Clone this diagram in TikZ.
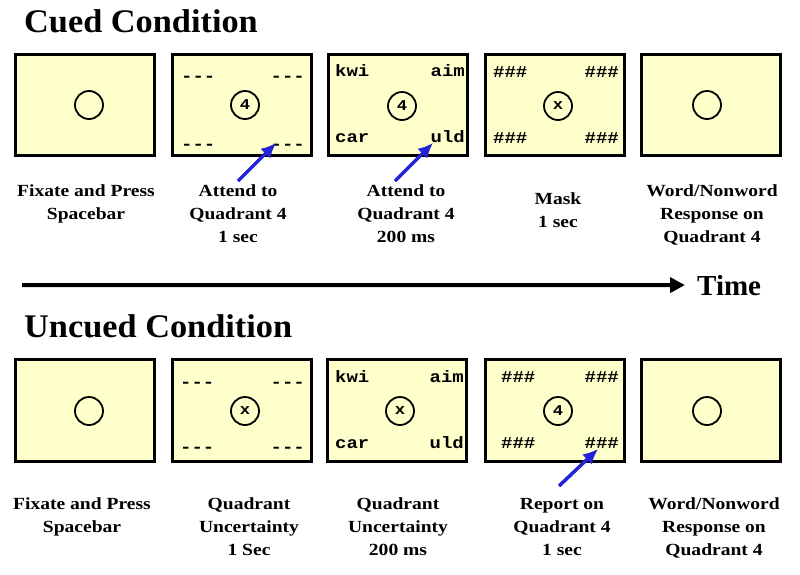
\documentclass[tikz,border=0pt]{standalone}
\usepackage{fontspec}
\setmainfont{Liberation Serif}
\newfontfamily\labfont{Liberation Serif}[FakeStretch=1.15]
\newfontfamily\titlefont{Liberation Serif}[FakeStretch=1.04]
\newfontfamily\scrfont{Liberation Mono}[FakeStretch=1.15]
\usetikzlibrary{arrows.meta}
\definecolor{screen}{RGB}{255,255,204}
\definecolor{cueblue}{RGB}{35,35,215}
\tikzset{
  screenbox/.style={draw, line width=3pt, fill=screen, minimum width=139pt, minimum height=101pt, inner sep=0pt},
  fixmark/.style={circle, draw, line width=1.8pt, minimum size=28pt, inner sep=0pt, font=\scrfont\bfseries\fontsize{15}{15}\selectfont},
  corner/.style={inner sep=0pt, font=\scrfont\bfseries\fontsize{16.5}{16.5}\selectfont},
  lab/.style={inner sep=0pt, anchor=north, align=center, font=\labfont\bfseries\fontsize{17}{23}\selectfont},
  heading/.style={inner sep=0pt, anchor=base west, font=\titlefont\bfseries\fontsize{33}{33}\selectfont},
  cue/.style={draw=cueblue, line width=3.5pt, -{Latex[length=15pt,width=14pt]}},
}
\newcommand{\fl}{\rule{0pt}{12pt}}
\begin{document}
\begin{tikzpicture}[x=1pt,y=-1pt]
\useasboundingbox (0,0) rectangle (800,574);
% titles
\node[heading] (cued) at (24,32) {Cued Condition};
\node[heading] (uncued) at (24,337) {Uncued Condition};
% top row screens
\node[screenbox] (c1) at (85,105) {};
\node[screenbox] (c2) at (241.5,105) {};
\node[screenbox] (c3) at (397.5,105) {};
\node[screenbox] (c4) at (554.5,105) {};
\node[screenbox] (c5) at (711,105) {};
\node[fixmark] (f1) at (89,105) {};
\node[fixmark] (f2) at (245,105) {4};
\node[fixmark] (f3) at (402,106) {4};
\node[fixmark] (f4) at (558,106) {x};
\node[fixmark] (f5) at (707,105) {};
% box 2 dashes
\node[corner, anchor=base west] (c2tl) at (181,81) {-{}-{}-};
\node[corner, anchor=base east] (c2tr) at (305,81) {-{}-{}-};
\node[corner, anchor=base west] (c2bl) at (181,149) {-{}-{}-};
\node[corner, anchor=base east] (c2br) at (305,149) {-{}-{}-};
% box 3 words
\node[corner, anchor=base west] (c3tl) at (335,76) {kwi};
\node[corner, anchor=base east] (c3tr) at (465,76) {aim};
\node[corner, anchor=base west] (c3bl) at (335,142) {car};
\node[corner, anchor=base east] (c3br) at (465,142) {uld};
% box 4 hashes
\node[corner, anchor=base west] (c4tl) at (493,77) {\#\#\#};
\node[corner, anchor=base east] (c4tr) at (619,77) {\#\#\#};
\node[corner, anchor=base west] (c4bl) at (493,143) {\#\#\#};
\node[corner, anchor=base east] (c4br) at (619,143) {\#\#\#};
% top labels
\node[lab] (l1) at (86,184) {\fl Fixate and Press\\Spacebar};
\node[lab] (l2) at (238,184) {\fl Attend to\\Quadrant 4\\1 sec};
\node[lab] (l3) at (406,184) {\fl Attend to\\Quadrant 4\\200 ms};
\node[lab] (l4) at (558,192) {\fl Mask\\1 sec};
\node[lab] (l5) at (712,184) {\fl Word/Nonword\\Response on\\Quadrant 4};
% cue arrows top
\coordinate (a1s) at (238,181);
\coordinate (a1e) at (276,143);
\coordinate (a2s) at (395,181);
\coordinate (a2e) at (433,143);
\draw[cue] (a1s) -- (a1e);
\draw[cue] (a2s) -- (a2e);
% time arrow
\node[inner sep=0pt, anchor=base west, font=\bfseries\fontsize{29}{29}\selectfont] (time) at (697,295) {Time};
\coordinate (t0) at (22,285);
\draw[line width=4pt, -{Triangle[length=15pt,width=15pt]}] (t0) -- ([xshift=-12pt]time.west);
% bottom row screens
\node[screenbox, minimum height=102pt] (u1) at (85,410) {};
\node[screenbox, minimum height=102pt] (u2) at (241.5,410) {};
\node[screenbox, minimum height=102pt] (u3) at (396.5,410) {};
\node[screenbox, minimum height=102pt] (u4) at (555,410) {};
\node[screenbox, minimum height=102pt] (u5) at (711,410) {};
\node[fixmark] (g1) at (89,411) {};
\node[fixmark] (g2) at (245,411) {x};
\node[fixmark] (g3) at (400,411) {x};
\node[fixmark] (g4) at (558,411) {4};
\node[fixmark] (g5) at (707,411) {};
% bottom box 2 dashes
\node[corner, anchor=base west] (u2tl) at (180,387) {-{}-{}-};
\node[corner, anchor=base east] (u2tr) at (305,387) {-{}-{}-};
\node[corner, anchor=base west] (u2bl) at (180,452) {-{}-{}-};
\node[corner, anchor=base east] (u2br) at (305,452) {-{}-{}-};
% bottom box 3 words
\node[corner, anchor=base west] (u3tl) at (335,382) {kwi};
\node[corner, anchor=base east] (u3tr) at (464,382) {aim};
\node[corner, anchor=base west] (u3bl) at (335,448) {car};
\node[corner, anchor=base east] (u3br) at (464,448) {uld};
% bottom box 4 hashes
\node[corner, anchor=base west] (u4tl) at (501,382) {\#\#\#};
\node[corner, anchor=base east] (u4tr) at (619,382) {\#\#\#};
\node[corner, anchor=base west] (u4bl) at (501,448) {\#\#\#};
\node[corner, anchor=base east] (u4br) at (619,448) {\#\#\#};
% bottom labels
\node[lab] (m1) at (82,497) {\fl Fixate and Press\\Spacebar};
\node[lab] (m2) at (249,497) {\fl Quadrant\\Uncertainty\\1 Sec};
\node[lab] (m3) at (398,497) {\fl Quadrant\\Uncertainty\\200 ms};
\node[lab] (m4) at (562,497) {\fl Report on\\Quadrant 4\\1 sec};
\node[lab] (m5) at (714,497) {\fl Word/Nonword\\Response on\\Quadrant 4};
% cue arrow bottom
\coordinate (a3s) at (559,486);
\coordinate (a3e) at (598,449);
\draw[cue] (a3s) -- (a3e);
\end{tikzpicture}
\end{document}
